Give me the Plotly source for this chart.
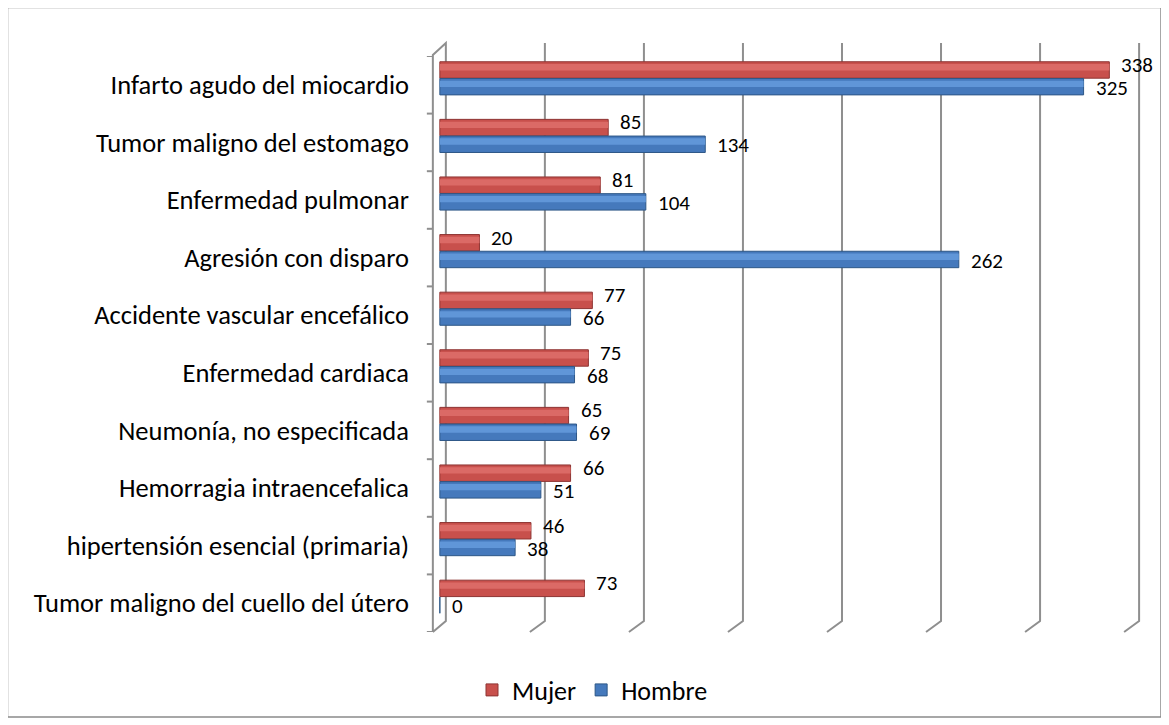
import plotly.graph_objects as go

# ---------------- data ----------------
categories = [
    "Infarto agudo del miocardio",
    "Tumor maligno del estomago",
    "Enfermedad pulmonar",
    "Agresión con disparo",
    "Accidente vascular encefálico",
    "Enfermedad cardiaca",
    "Neumonía, no especificada",
    "Hemorragia intraencefalica",
    "hipertensión esencial (primaria)",
    "Tumor maligno del cuello del útero",
]
mujer = [338, 85, 81, 20, 77, 75, 65, 66, 46, 73]
hombre = [325, 134, 104, 262, 66, 68, 69, 51, 38, 0]
series_names = ["Mujer", "Hombre"]
grid_values = [50, 100, 150, 200, 250, 300, 350]

# ---------------- layout geometry ----------------
PAGE_OFF = 8            # default body margin of the html page
W, H = 1169 - PAGE_OFF, 725 - PAGE_OFF
ML, MR, MT, MB = 416, 26, 48, 93
X_RANGE = [-8, 355]
PW = W - ML - MR
PH = H - MT - MB
UPP = (X_RANGE[1] - X_RANGE[0]) / PW  # data units per pixel


def xp(px):
    """page pixel -> paper x"""
    return (px - PAGE_OFF - ML) / PW


def yp(py):
    """page pixel -> paper y"""
    return (H - MB - (py - PAGE_OFF)) / PH


RED = "#C8504C"
RED_HI = "#DB6A66"
RED_LINE = "#8E3533"
BLUE = "#4579BC"
BLUE_HI = "#6096D8"
BLUE_LINE = "#2D5787"
GRID = "#8f8f8f"
FONT = "Carlito, Lato, sans-serif"

fig = go.Figure()

red_off, blue_off, bw = -0.40, -0.11, 0.285

fig.add_trace(go.Bar(
    y=categories, x=mujer, name=series_names[0], orientation="h",
    offset=red_off, width=bw,
    marker=dict(color=RED, line=dict(color=RED_LINE, width=1)),
))
fig.add_trace(go.Bar(
    y=categories, x=hombre, name=series_names[1], orientation="h",
    offset=blue_off, width=bw,
    marker=dict(color=BLUE, line=dict(color=BLUE_LINE, width=1)),
))
# cylinder highlight
fig.add_trace(go.Bar(
    y=categories, x=mujer, orientation="h", showlegend=False, hoverinfo="skip",
    offset=red_off + 0.04, width=0.11,
    marker=dict(color=RED_HI, line=dict(width=0)),
))
fig.add_trace(go.Bar(
    y=categories, x=hombre, orientation="h", showlegend=False, hoverinfo="skip",
    offset=blue_off + 0.04, width=0.11,
    marker=dict(color=BLUE_HI, line=dict(width=0)),
))

annotations = []
for cat, m, h in zip(categories, mujer, hombre):
    annotations.append(dict(x=m, y=cat, xref="x", yref="y", text=str(m),
                            showarrow=False, xanchor="left", yanchor="middle",
                            xshift=10, yshift=20,
                            font=dict(family=FONT, size=21, color="#000")))
    annotations.append(dict(x=h, y=cat, xref="x", yref="y", text=str(h),
                            showarrow=False, xanchor="left", yanchor="middle",
                            xshift=10, yshift=-3,
                            font=dict(family=FONT, size=21, color="#000")))

shapes = []
back_dx = 6 * UPP      # back plane offset
front_dx = -9 * UPP    # front plane offset at the floor
wall_front = front_dx + 2 * UPP
# outer border
shapes.append(dict(type="rect", xref="paper", yref="paper",
                   x0=xp(7.5), x1=xp(1161), y0=yp(717), y1=yp(7.5),
                   line=dict(color="#8a8a8a", width=1.5), layer="below"))
# gridlines (back wall + floor slant)
for v in grid_values:
    shapes.append(dict(type="path", xref="x", yref="paper",
                       path=f"M {v + back_dx},{yp(43)} L {v + back_dx},{yp(621)} L {v + front_dx},{yp(632)}",
                       line=dict(color=GRID, width=2), layer="below"))
# left wall
shapes.append(dict(type="path", xref="x", yref="paper",
                   path=f"M {wall_front},{yp(632)} L {back_dx},{yp(621)} L {back_dx},{yp(43)} "
                        f"L {wall_front},{yp(55)} L {wall_front},{yp(632)}",
                   line=dict(color=GRID, width=2), layer="below"))
# category boundary ticks
for k in range(len(categories) + 1):
    shapes.append(dict(type="line", xref="x", yref="y",
                       x0=wall_front - 6 * UPP, x1=wall_front,
                       y0=k - 0.5, y1=k - 0.5,
                       line=dict(color=GRID, width=2), layer="below"))

fig.update_layout(
    width=W, height=H,
    margin=dict(l=ML, r=MR, t=MT, b=MB, autoexpand=False),
    paper_bgcolor="white", plot_bgcolor="white",
    barmode="overlay",
    showlegend=True,
    legend=dict(orientation="h", x=xp(472), xanchor="left",
                y=yp(690), yanchor="middle",
                font=dict(family=FONT, size=26, color="#000"),
                itemwidth=30, tracegroupgap=0, borderwidth=0),
    xaxis=dict(range=X_RANGE, showgrid=False, zeroline=False,
               showticklabels=False, showline=False, ticks="", automargin=False),
    yaxis=dict(type="category", categoryorder="array", categoryarray=categories,
               range=[len(categories) - 0.5, -0.5], automargin=False,
               showgrid=False, zeroline=False, showline=False, ticks="",
               ticklabelstandoff=14,
               tickfont=dict(family=FONT, size=26.5, color="#000")),
    annotations=annotations,
    shapes=shapes,
    font=dict(family=FONT),
)

fig.write_html("out.html")
